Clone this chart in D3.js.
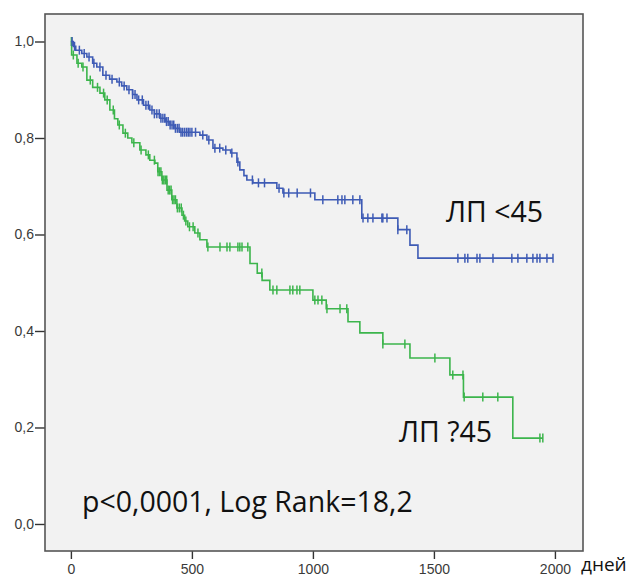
<!DOCTYPE html>
<html>
<head>
<meta charset="utf-8">
<script src="https://cdn.jsdelivr.net/npm/d3@7"></script>
<style>
  html, body { margin: 0; padding: 0; background: #fff; }
  svg { display: block; }
</style>
</head>
<body>
<svg id="chart" width="635" height="576"></svg>
<script>
// ── Data (Kaplan-Meier) ─────────────────────────────────────────────
const blueTimes = [0, 10, 20, 45, 66, 90, 107, 132, 160, 190, 210, 231, 255, 273, 300, 326, 345, 368, 390, 409,
  430, 450, 533, 562, 587, 628, 660, 686, 698, 715, 727, 752, 851, 876, 1008, 1202, 1351, 1401, 1434];
const blueSurv = [1.0, 0.99, 0.982, 0.975, 0.968, 0.955, 0.947, 0.93, 0.922, 0.916, 0.908, 0.9, 0.89, 0.879, 0.868,
  0.858, 0.85, 0.841, 0.834, 0.827, 0.82, 0.812, 0.806, 0.796, 0.779, 0.775, 0.769, 0.75, 0.734, 0.722, 0.713,
  0.707, 0.696, 0.686, 0.672, 0.634, 0.61, 0.578, 0.551];
const blueCensor = [5, 15, 35, 55, 75, 95, 120, 145, 170, 200, 220, 240, 255, 265, 280, 295, 310, 320, 335, 345,
  355, 365, 372, 380, 388, 395, 402, 410, 418, 425, 432, 440, 447, 455, 462, 470, 478, 485, 492, 500, 515, 545,
  570, 595, 615, 640, 665, 690, 750, 775, 800, 860, 880, 900, 935, 990, 1041, 1103, 1120, 1132, 1165, 1194,
  1207, 1227, 1248, 1285, 1289, 1306, 1351, 1388, 1599, 1628, 1640, 1678, 1690, 1744, 1822, 1847, 1884, 1909,
  1926, 1938, 1967, 1992];

const greenTimes = [0, 3, 25, 45, 66, 90, 120, 140, 161, 180, 194, 215, 235, 252, 285, 310, 326, 347, 359, 376,
  397, 417, 438, 459, 470, 483, 512, 533, 562, 740, 770, 790, 822, 1000, 1055, 1145, 1194, 1289, 1401, 1566,
  1622, 1826];
const greenSurv = [1.0, 0.972, 0.955, 0.947, 0.92, 0.905, 0.893, 0.879, 0.858, 0.84, 0.827, 0.81, 0.8, 0.79,
  0.775, 0.765, 0.754, 0.748, 0.73, 0.713, 0.692, 0.672, 0.655, 0.64, 0.628, 0.616, 0.603, 0.589, 0.574, 0.54,
  0.52, 0.505, 0.485, 0.464, 0.446, 0.419, 0.396, 0.373, 0.344, 0.309, 0.263, 0.178];
const greenCensor = [2, 10, 30, 50, 80, 110, 135, 150, 175, 200, 225, 260, 290, 320, 345, 360, 366, 372, 378,
  384, 390, 396, 402, 408, 414, 420, 426, 432, 440, 448, 456, 465, 475, 490, 505, 525, 566, 616, 645, 657, 690,
  698, 707, 731, 789, 835, 851, 905, 917, 934, 946, 1008, 1021, 1037, 1058, 1112, 1140, 1289, 1380, 1504, 1578,
  1620, 1625, 1702, 1764, 1938, 1950];

const xTicks = [0, 500, 1000, 1500, 2000];
const yTicks = [0, 0.2, 0.4, 0.6, 0.8, 1.0];

const BLUE = '#3e5bb5';
const GREEN = '#3cb54c';

// ── Layout ──────────────────────────────────────────────────────────
const svg = d3.select('#chart');
const plot = { left: 45, top: 14, right: 583, bottom: 551 };

const x = d3.scaleLinear().domain([-107, 2116]).range([plot.left, plot.right]);
const y = d3.scaleLinear().domain([-0.056, 1.057]).range([plot.bottom, plot.top]);

// plot background
svg.append('rect')
  .attr('x', plot.left).attr('y', plot.top)
  .attr('width', plot.right - plot.left).attr('height', plot.bottom - plot.top)
  .attr('fill', '#f2f2f2');

// ── Axes ────────────────────────────────────────────────────────────
const fmt = d => d3.format('.1f')(d).replace('.', ',');

const yAxis = svg.append('g')
  .attr('transform', `translate(${plot.left},0)`)
  .call(d3.axisLeft(y).tickValues(yTicks).tickFormat(fmt).tickSize(10).tickPadding(1));

const xAxis = svg.append('g')
  .attr('transform', `translate(0,${plot.bottom})`)
  .call(d3.axisBottom(x).tickValues(xTicks).tickFormat(d3.format('d')).tickSize(8).tickPadding(5));

[yAxis, xAxis].forEach(g => {
  g.select('.domain').remove();
  g.selectAll('.tick line').attr('stroke', '#333').attr('stroke-width', 1.4);
  g.selectAll('.tick text')
    .attr('fill', '#3a3a3a')
    .style('font-family', 'Liberation Sans, Arial, sans-serif')
    .style('font-size', '14px');
});

svg.append('rect')
  .attr('x', plot.left).attr('y', plot.top)
  .attr('width', plot.right - plot.left).attr('height', plot.bottom - plot.top)
  .attr('fill', 'none').attr('stroke', '#555').attr('stroke-width', 1.6);

svg.append('text')
  .attr('x', 581).attr('y', 571)
  .style('font-family', 'Open Sans, sans-serif')
  .style('font-size', '19px')
  .attr('fill', '#111')
  .text('дней');

// ── Survival curves ─────────────────────────────────────────────────
const stepLine = d3.line()
  .x(d => x(d[0]))
  .y(d => y(d[1]))
  .curve(d3.curveStepAfter);

function drawCurve(times, surv, censor, color) {
  const pts = times.map((t, i) => [t, surv[i]]);
  pts.push([d3.max(censor), surv[surv.length - 1]]);

  const g = svg.append('g');
  g.append('path')
    .attr('d', stepLine(pts))
    .attr('fill', 'none')
    .attr('stroke', color)
    .attr('stroke-width', 1.6);

  // censor marks sit on the step value at that time
  const survAt = t => surv[Math.max(0, d3.bisectRight(times, t) - 1)];
  g.selectAll('line.censor')
    .data(censor)
    .join('line')
      .attr('class', 'censor')
      .attr('x1', d => x(d)).attr('x2', d => x(d))
      .attr('y1', d => y(survAt(d)) - 4.5)
      .attr('y2', d => y(survAt(d)) + 4.5)
      .attr('stroke', color)
      .attr('stroke-width', 1.5);
}

drawCurve(greenTimes, greenSurv, greenCensor, GREEN);
drawCurve(blueTimes, blueSurv, blueCensor, BLUE);

// ── Annotations ─────────────────────────────────────────────────────
const note = (tx, ty, label) => svg.append('text')
  .attr('x', tx).attr('y', ty)
  .style('font-family', 'Open Sans, sans-serif')
  .style('font-size', '28.5px')
  .attr('fill', '#111')
  .text(label);

note(446, 222, 'ЛП <45');
note(399, 442, 'ЛП ?45');
note(82, 512, 'p<0,0001, Log Rank=18,2');
</script>
</body>
</html>
